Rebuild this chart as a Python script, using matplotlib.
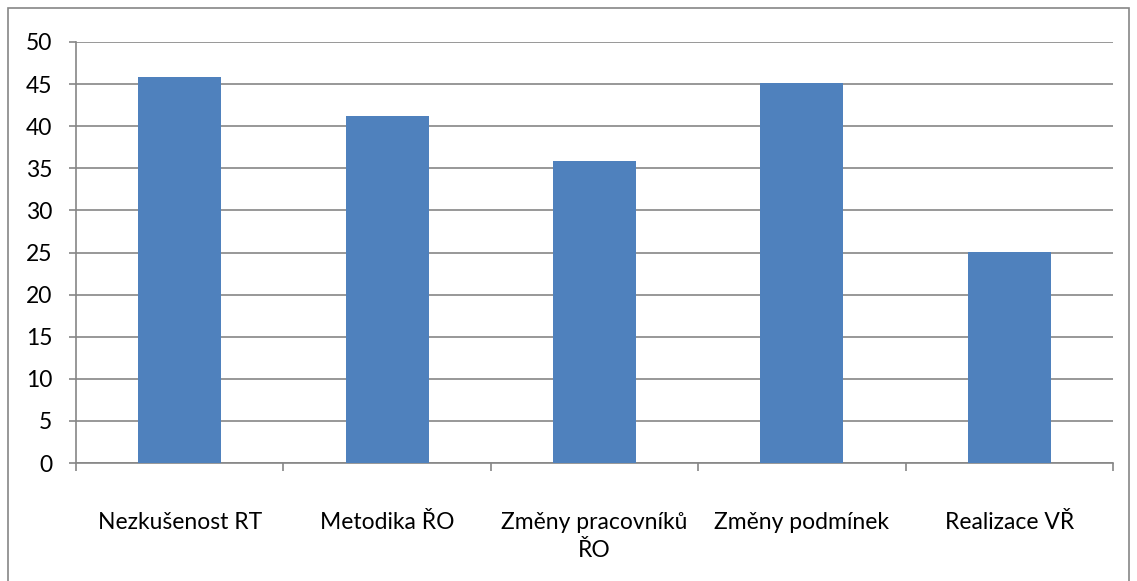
import numpy as np
import matplotlib.pyplot as plt
from matplotlib.patches import Rectangle

# data
categories = ["Nezkušenost RT", "Metodika ŘO", "Změny pracovníků\nŘO",
              "Změny podmínek", "Realizace VŘ"]
values = [45.8, 41.2, 35.9, 45.1, 25.1]
yticks = [0, 5, 10, 15, 20, 25, 30, 35, 40, 45, 50]

plt.rcParams['font.family'] = ['Lato', 'DejaVu Sans']

grey = '#868686'
fig = plt.figure(figsize=(11.37, 5.81), dpi=100)
ax = fig.add_axes([76 / 1137, 1 - 463 / 581, (1113 - 76) / 1137, (463 - 42) / 581])

x = np.arange(len(categories))
ax.bar(x, values, width=0.4, color='#4F81BD', zorder=3)

ax.set_xlim(-0.5, len(categories) - 0.5)
ax.set_ylim(0, 50)
ax.set_yticks(yticks)
ax.set_yticklabels([str(v) for v in yticks], fontsize=16.5)
ax.grid(axis='y', color=grey, linewidth=1.2, zorder=0)

# category labels without ticks, ticks at boundaries
ax.set_xticks(x)
ax.set_xticklabels(categories, fontsize=16.5, linespacing=1.45, va='top')
ax.tick_params(axis='x', length=0, pad=35)
ax.set_xticks(np.arange(-0.5, len(categories)), minor=True)
ax.tick_params(axis='x', which='minor', length=6, width=1.2, color=grey)
ax.tick_params(axis='y', length=5, width=1.2, color=grey, pad=12)

for side in ['top', 'right']:
    ax.spines[side].set_visible(False)
ax.spines['left'].set_color(grey)
ax.spines['left'].set_linewidth(1.2)
ax.spines['bottom'].set_color(grey)
ax.spines['bottom'].set_linewidth(1.2)

# outer chart frame
fig.patches.append(Rectangle((8 / 1137, -0.05), 1121 / 1137, 1.05 - 8 / 581,
                             transform=fig.transFigure, fill=False,
                             edgecolor=grey, linewidth=1.2))

fig.savefig('out.png', dpi=100)
